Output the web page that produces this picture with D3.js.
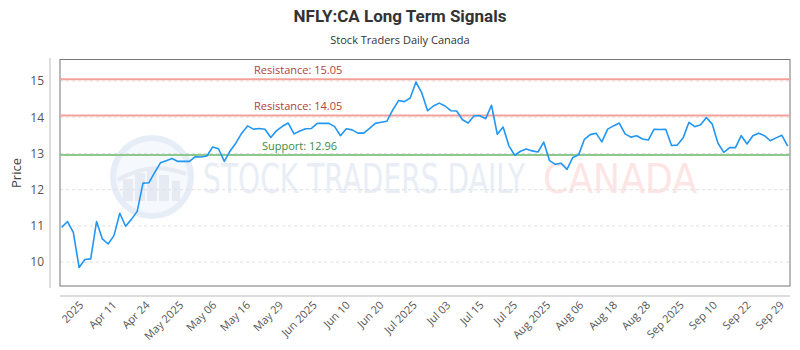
<!DOCTYPE html>
<html><head><meta charset="utf-8">
<script src="https://cdn.jsdelivr.net/npm/d3@7"></script>
<style>body{margin:0;background:#fff}svg{display:block}</style>
</head><body><svg id="c" width="800" height="350"></svg>
<script>
const titleText = "NFLY:CA Long Term Signals";
const subtitleText = "Stock Traders Daily Canada";
const prices = [10.96,11.12,10.82,9.85,10.07,10.09,11.12,10.64,10.50,10.73,
11.35,10.99,11.18,11.40,12.18,12.19,12.47,12.74,12.80,12.86,
12.78,12.78,12.78,12.91,12.90,12.93,13.18,13.13,12.78,13.07,
13.29,13.56,13.76,13.67,13.69,13.67,13.44,13.63,13.75,13.84,
13.54,13.62,13.68,13.69,13.83,13.83,13.83,13.74,13.49,13.68,
13.65,13.56,13.56,13.69,13.83,13.86,13.89,14.20,14.46,14.43,
14.53,14.97,14.67,14.18,14.31,14.39,14.31,14.18,14.17,13.93,
13.84,14.04,14.04,13.96,14.33,13.53,13.73,13.21,12.95,13.06,
13.12,13.07,13.04,13.31,12.80,12.70,12.73,12.56,12.89,12.96,
13.39,13.52,13.56,13.32,13.67,13.76,13.84,13.54,13.45,13.49,
13.40,13.37,13.67,13.66,13.67,13.22,13.23,13.43,13.86,13.74,
13.79,13.99,13.81,13.28,13.03,13.16,13.16,13.49,13.26,13.49,
13.56,13.49,13.35,13.43,13.50,13.20];
const xTickLabels = ["2025","Apr 11","Apr 24","May 2025","May 06","May 16","May 29","Jun 2025","Jun 10","Jun 20","Jul 2025","Jul 03","Jul 15","Jul 25","Aug 2025","Aug 06","Aug 18","Aug 28","Sep 2025","Sep 10","Sep 22","Sep 29"];
const xTickAt = [2.9,8.6,14.3,20.1,25.8,31.6,37.3,43.1,48.8,54.6,60.3,66.1,71.8,77.6,83.3,89.0,94.8,100.5,106.3,112.0,117.8,123.5];
const yTicks = [10,11,12,13,14,15];
const levels = [
  {name:"Resistance", value:15.05, kind:"r"},
  {name:"Resistance", value:14.05, kind:"r"},
  {name:"Support", value:12.96, kind:"s"}
];

const svg = d3.select("#c");
const L = 60, R = 790, T = 59.5, B = 286;
const x = d3.scaleLinear().domain([0, prices.length - 1]).range([61.7, 787.7]);
const y = d3.scaleLinear().domain([9.34, 15.58]).range([B, 60]);

// titles
svg.append("text").attr("x", 400).attr("y", 22).attr("text-anchor", "middle")
  .attr("font-family", "Roboto, 'Open Sans', sans-serif").attr("font-weight", "bold")
  .attr("font-size", 17).attr("fill", "#333").text(titleText);
svg.append("text").attr("x", 400).attr("y", 44).attr("text-anchor", "middle")
  .attr("font-family", "'Open Sans', sans-serif").attr("font-size", 11)
  .attr("fill", "#333").text(subtitleText);

// watermark
const wm = svg.append("g");
wm.append("circle").attr("cx", 152).attr("cy", 177).attr("r", 39)
  .attr("fill", "#f5f8fc").attr("stroke", "#e6edf7").attr("stroke-width", 6);
[[128,12,22],[140,12,28],[152,12,32],[164,12,26],[176,10,20]].forEach(b => {
  wm.append("rect").attr("x", b[0]-b[1]/2+1).attr("y", 201-b[2]).attr("width", b[1]-2).attr("height", b[2]).attr("fill", "#e5eaf3");
});
wm.append("path").attr("d", "M118,180 Q150,160 186,174").attr("fill", "none").attr("stroke", "#e5eaf3").attr("stroke-width", 4);
function fitText(str, x0, w, color, family) {
  const t = wm.append("text").attr("font-family", family).attr("font-size", 40)
    .attr("fill", color).text(str);
  const nat = t.node().getComputedTextLength();
  t.attr("transform", `translate(${x0},193) scale(${w / nat},1)`);
}
fitText("STOCK TRADERS DAILY", 203, 322, "#e9eef6", "'DejaVu Sans Condensed', Roboto, sans-serif");
fitText("CANADA", 543, 154, "#fde5e5", "'DejaVu Sans', Roboto, sans-serif");

// grid
svg.append("g").selectAll("line").data(yTicks).join("line")
  .attr("x1", L).attr("x2", R).attr("y1", d => y(d)).attr("y2", d => y(d))
  .attr("stroke", "#e0e0e0").attr("stroke-dasharray", "3,3");

// frame
svg.append("rect").attr("x", L).attr("y", T).attr("width", R - L).attr("height", B - T)
  .attr("fill", "none").attr("stroke", "#777").attr("stroke-width", 1);

// y axis
const ya = svg.append("g").attr("transform", "translate(50,0)")
  .call(d3.axisLeft(y).tickValues(yTicks).tickFormat(d3.format("d")).tickSize(0).tickPadding(6));
ya.select(".domain").attr("d", "M0,58V288").attr("stroke", "#bbb");
ya.selectAll("text").attr("font-family", "'Open Sans', sans-serif").attr("font-size", 12).attr("fill", "#555");
svg.append("text").attr("transform", "translate(21,173) rotate(-90)").attr("text-anchor", "middle")
  .attr("font-family", "'Open Sans', sans-serif").attr("font-size", 13).attr("fill", "#444").text("Price");

// x axis
const xa = svg.append("g").attr("transform", "translate(0,296)")
  .call(d3.axisBottom(x).tickValues(xTickAt).tickFormat((d, i) => xTickLabels[i]).tickSize(0).tickPadding(4));
xa.select(".domain").attr("d", `M${L},0H${R}`).attr("stroke", "#bbb");
xa.selectAll("text").attr("font-family", "'Open Sans', sans-serif").attr("font-size", 11).attr("fill", "#555")
  .attr("text-anchor", "end").attr("transform", "rotate(-45)").attr("dx", "-0.3em").attr("dy", "0.6em");

// levels
const lv = svg.append("g");
lv.selectAll("line").data(levels).join("line")
  .attr("x1", L).attr("x2", R).attr("y1", d => y(d.value)).attr("y2", d => y(d.value))
  .attr("stroke", d => d.kind === "r" ? "#f3a29b" : "#8dc88d").attr("stroke-width", 2);
lv.selectAll("text").data(levels).join("text")
  .attr("x", d => d.kind === "r" ? 254 : 262).attr("y", d => y(d.value) - 5)
  .attr("font-family", "'Open Sans', sans-serif").attr("font-size", 11)
  .attr("fill", d => d.kind === "r" ? "#b0413a" : "#3e8a3e")
  .text(d => `${d.name}: ${d.value.toFixed(2)}`);

// price line
svg.append("path").datum(prices)
  .attr("fill", "none").attr("stroke", "#2196f3").attr("stroke-width", 1.6).attr("stroke-linejoin", "round")
  .attr("d", d3.line().x((d, i) => x(i)).y(d => y(d)));
</script></body></html>
